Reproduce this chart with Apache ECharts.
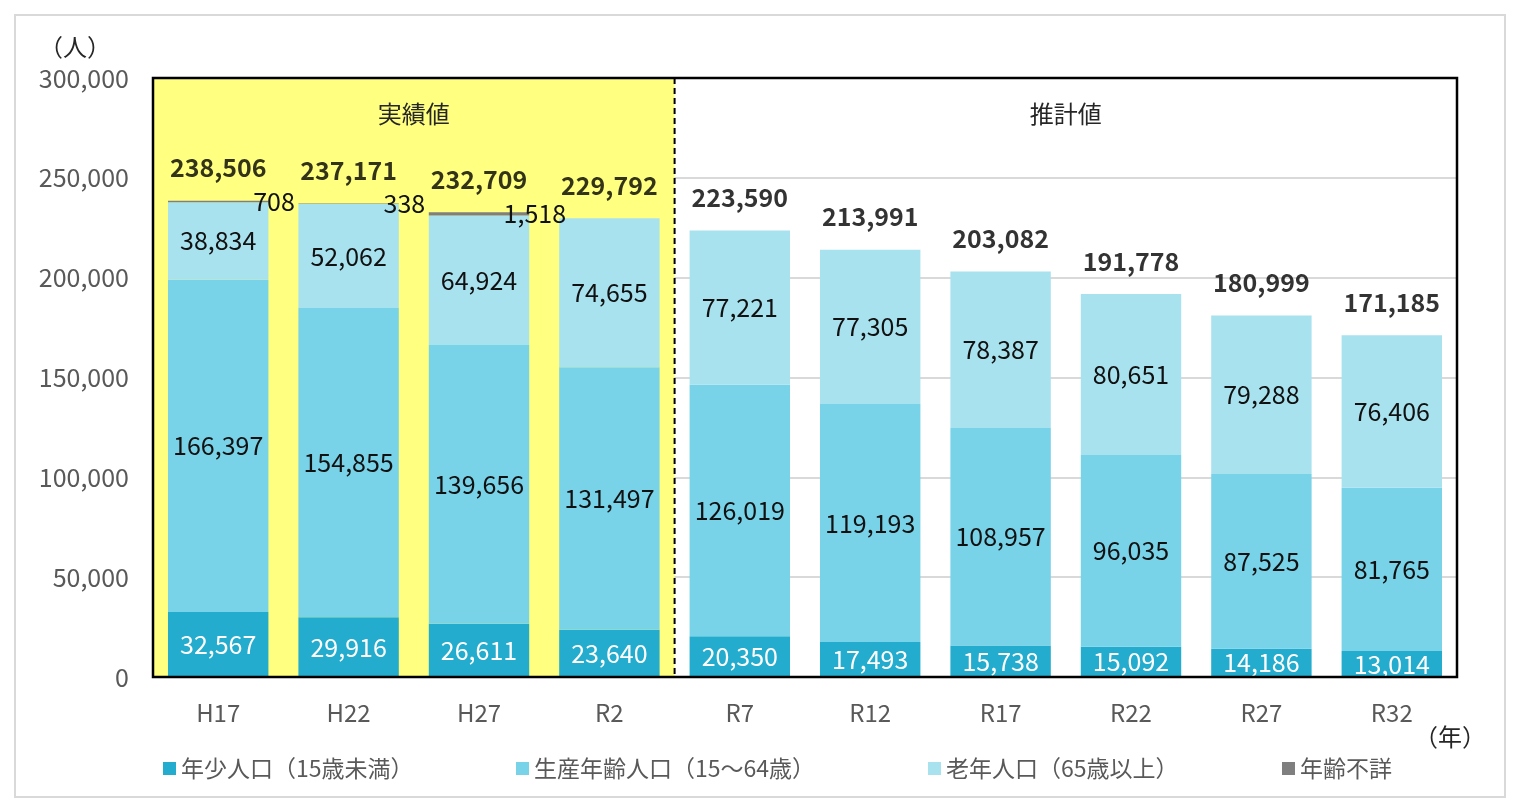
<!DOCTYPE html>
<html><head><meta charset="utf-8">
<script src="https://cdn.jsdelivr.net/npm/echarts@6/dist/echarts.min.js"></script>
<style>html,body{margin:0;padding:0;background:#fff}#c{width:1522px;height:812px}</style>
</head><body><div id="c"></div>
<script>
const categories = ['H17','H22','H27','R2','R7','R12','R17','R22','R27','R32'];
const youth   = [32567,29916,26611,23640,20350,17493,15738,15092,14186,13014];
const working = [166397,154855,139656,131497,126019,119193,108957,96035,87525,81765];
const elderly = [38834,52062,64924,74655,77221,77305,78387,80651,79288,76406];
const unknown = [708,338,1518,null,null,null,null,null,null,null];
const totals  = [238506,237171,232709,229792,223590,213991,203082,191778,180999,171185];
const yTicks  = [0,50000,100000,150000,200000,250000,300000];
const seriesNames = ['年少人口（15歳未満）','生産年齢人口（15～64歳）','老年人口（65歳以上）','年齢不詳'];
const colors = ['#23ACCD','#78D2E8','#A9E2EF','#7F7F7F'];
const actualCount = 4;

const FONT = '"Noto Sans CJK JP", "Noto Sans", sans-serif';
const fmt = v => (v == null || v === 0) ? '' : Number(v).toLocaleString('en-US');
const chart = echarts.init(document.getElementById('c'));

const bandColors = categories.map((c,i) => i < actualCount ? '#FFFF80' : 'rgba(0,0,0,0)');

function barSeries(name, data, color, labelColor) {
  return {
    name, type: 'bar', stack: 'pop', data, barWidth: '77%',
    itemStyle: { color },
    label: { show: true, position: 'inside', formatter: p => fmt(p.value),
      color: labelColor, fontSize: 25, fontFamily: FONT },
    emphasis: { disabled: true }
  };
}

const legendLefts = [158, 511, 923, 1277];
chart.setOption({
  animation: false,
  textStyle: { fontFamily: FONT },
  grid: { left: 153, right: 65, top: 78, bottom: 135 },
  legend: seriesNames.map((n, i) => ({
    data: [n], left: legendLefts[i], top: 752, icon: 'rect', itemWidth: 13, itemHeight: 13, itemGap: 6,
    textStyle: { fontSize: 23, color: '#595959', fontFamily: FONT }, selectedMode: false
  })),
  xAxis: {
    type: 'category', data: categories,
    axisLine: { show: false },
    axisTick: { show: false },
    axisLabel: { fontSize: 24, color: '#595959', margin: 24, fontFamily: FONT },
    splitArea: { show: true, areaStyle: { color: bandColors } },
    splitLine: { show: false }
  },
  yAxis: {
    type: 'value', min: 0, max: 300000, interval: 50000,
    axisLine: { show: false }, axisTick: { show: false },
    axisLabel: { fontSize: 25, color: '#595959', margin: 24, fontFamily: FONT, formatter: v => yTicks.includes(v) ? v.toLocaleString('en-US') : '' },
    splitLine: { show: true, lineStyle: { color: '#D9D9D9', width: 2 } }
  },
  series: [
    barSeries(seriesNames[0], youth, colors[0], '#fff'),
    barSeries(seriesNames[1], working, colors[1], '#111'),
    barSeries(seriesNames[2], elderly, colors[2], '#111'),
    Object.assign(barSeries(seriesNames[3], unknown, colors[3], '#111'), {
      label: { show: true, position: [106, '50%'], align: 'center', verticalAlign: 'middle',
        formatter: p => fmt(p.value), color: '#111', fontSize: 25, fontFamily: FONT }
    }),
    {
      name: 'total', type: 'scatter', data: totals, symbolSize: 1, itemStyle: { color: 'rgba(0,0,0,0)' },
      label: { show: true, position: 'top', distance: 20, formatter: p => fmt(p.value),
        fontSize: 25, fontWeight: 'bold', color: '#000', fontFamily: FONT },
      emphasis: { disabled: true }, silent: true, z: 10
    }
  ]
});

const yLab = chart.convertToPixel({ yAxisIndex: 0 }, 282000);
const yTop = chart.convertToPixel({ yAxisIndex: 0 }, 300000);
const yBot = chart.convertToPixel({ yAxisIndex: 0 }, 0);
const cx = i => chart.convertToPixel({ xAxisIndex: 0 }, categories[i]);
const step = cx(1) - cx(0);
const xLeft = cx(0) - step / 2;
const xRight = cx(categories.length - 1) + step / 2;
const xDiv = (cx(actualCount - 1) + cx(actualCount)) / 2;
const xA = (xLeft + xDiv) / 2;
const xB = (xDiv + xRight) / 2;

chart.setOption({
  graphic: [
    { type: 'rect', shape: { x: 15, y: 15, width: 1490, height: 782 }, style: { fill: 'none', stroke: '#D9D9D9', lineWidth: 2 }, z: -10 },
    { type: 'line', shape: { x1: xDiv, y1: yTop, x2: xDiv, y2: yBot }, style: { stroke: '#000', lineWidth: 2, lineDash: [6, 4] }, z: 50 },
    { type: 'rect', shape: { x: xLeft, y: yTop, width: xRight - xLeft, height: yBot - yTop }, style: { fill: 'none', stroke: '#000', lineWidth: 2.5 }, z: 60 },
    { type: 'text', x: xA, y: yLab, style: { text: '実績値', font: '24px ' + FONT, fill: '#262626', align: 'center', verticalAlign: 'middle' } },
    { type: 'text', x: xB, y: yLab, style: { text: '推計値', font: '24px ' + FONT, fill: '#262626', align: 'center', verticalAlign: 'middle' } },
    { type: 'text', x: 75, y: 47, style: { text: '（人）', font: '24px ' + FONT, fill: '#262626', align: 'center', verticalAlign: 'middle' } },
    { type: 'text', x: 1450, y: 737, style: { text: '（年）', font: '24px ' + FONT, fill: '#262626', align: 'center', verticalAlign: 'middle' } }
  ]
});
</script></body></html>
